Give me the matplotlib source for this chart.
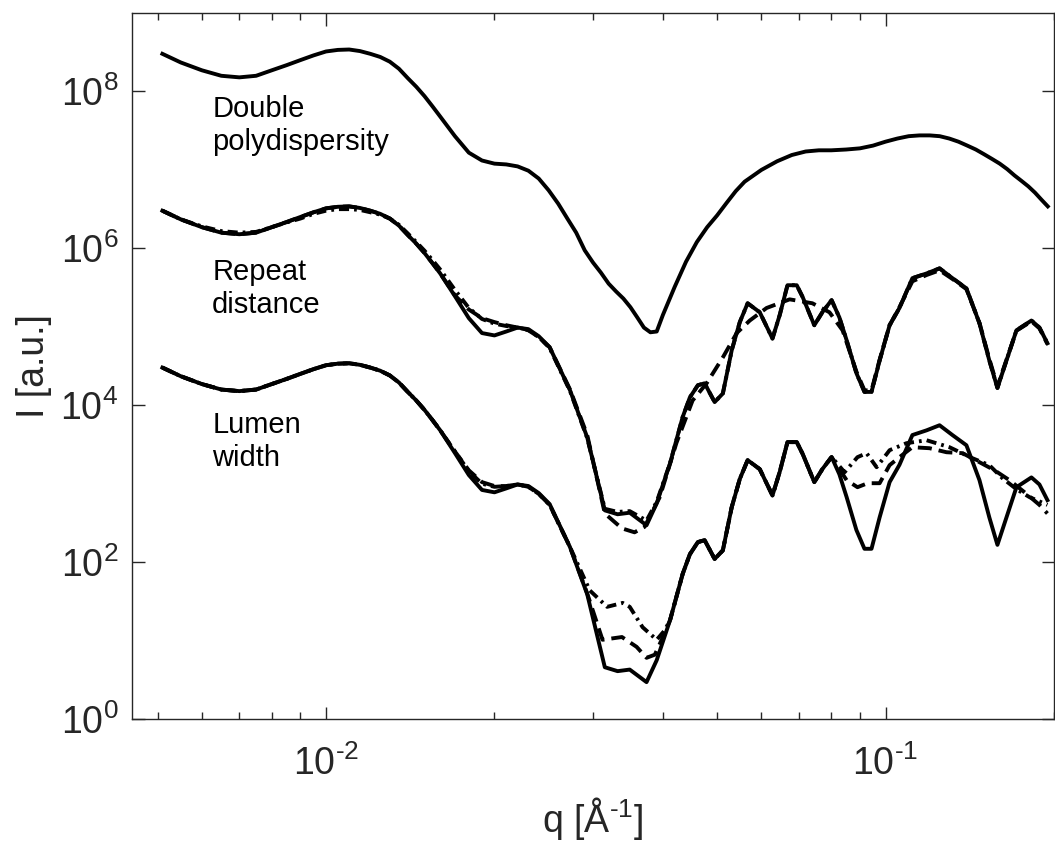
import matplotlib
matplotlib.use("Agg")
import matplotlib.pyplot as plt
import numpy as np
from matplotlib.ticker import FixedLocator, LogLocator, FuncFormatter, NullFormatter

plt.rcParams['font.family'] = ['Liberation Sans', 'DejaVu Sans']
plt.rcParams['mathtext.fontset'] = 'custom'
plt.rcParams['mathtext.rm'] = 'Liberation Sans'
plt.rcParams['mathtext.it'] = 'Liberation Sans:italic'
plt.rcParams['mathtext.default'] = 'regular'

# shared low-q part (all curves start on the same shape), log10(I)
q_left = [0.0051, 0.0055, 0.006, 0.0065, 0.007, 0.0075, 0.008, 0.0085, 0.009, 0.0095,
          0.010, 0.0105, 0.011, 0.0115, 0.012, 0.0125, 0.013, 0.0135, 0.014, 0.0145,
          0.015, 0.0155, 0.016]
logI_left = [4.48, 4.37, 4.27, 4.20, 4.18, 4.20, 4.27, 4.335, 4.40, 4.46,
             4.51, 4.53, 4.535, 4.515, 4.48, 4.44, 4.38, 4.29, 4.17, 4.06,
             3.94, 3.81, 3.68]

# double polydispersity model (smooth)
q_double = q_left + [0.017, 0.018, 0.019, 0.020, 0.021, 0.022, 0.023, 0.024, 0.025, 0.026,
                     0.027, 0.028, 0.029, 0.030, 0.031, 0.032, 0.033, 0.034, 0.035, 0.036,
                     0.037, 0.038, 0.039, 0.040, 0.042, 0.044, 0.046, 0.048, 0.050, 0.052,
                     0.054, 0.056, 0.060, 0.064, 0.068, 0.072, 0.076, 0.080, 0.085, 0.090,
                     0.095, 0.100, 0.105, 0.110, 0.115, 0.120, 0.125, 0.130, 0.135, 0.140,
                     0.145, 0.150, 0.155, 0.160, 0.165, 0.170, 0.175, 0.180, 0.185, 0.190, 0.195]
logI_double = logI_left + [3.43, 3.22, 3.12, 3.08, 3.07, 3.045, 2.99, 2.89, 2.74, 2.57,
                           2.38, 2.20, 1.975, 1.82, 1.69, 1.55, 1.45, 1.36, 1.25, 1.12,
                           0.99, 0.93, 0.94, 1.15, 1.51, 1.83, 2.08, 2.27, 2.42, 2.58,
                           2.73, 2.85, 3.00, 3.11, 3.19, 3.235, 3.25, 3.25, 3.26, 3.275,
                           3.31, 3.36, 3.40, 3.43, 3.44, 3.44, 3.43, 3.40, 3.36, 3.31,
                           3.26, 3.20, 3.14, 3.08, 3.01, 2.93, 2.86, 2.79, 2.71, 2.62, 2.535]

# reference (solid) curve, used in the two lower groups
q_ref = q_left + [0.017, 0.018, 0.019, 0.020, 0.021, 0.022, 0.023, 0.024, 0.0251, 0.0273,
                  0.0293, 0.0315, 0.0332, 0.0349, 0.0374, 0.0390, 0.0412, 0.0434, 0.0447, 0.0462,
                  0.0475, 0.0495, 0.0512, 0.0531, 0.0549, 0.0567, 0.0596, 0.0628, 0.0647, 0.0668,
                  0.0694, 0.0711, 0.0746, 0.0771, 0.0801, 0.0827, 0.0852, 0.0887, 0.0917, 0.0944,
                  0.0976, 0.1017, 0.1059, 0.1117, 0.1184, 0.1249, 0.1317, 0.1395, 0.1472, 0.1533,
                  0.1585, 0.1645, 0.1714, 0.1823, 0.1884, 0.1947]
logI_ref = logI_left + [3.39, 3.11, 2.92, 2.89, 2.94, 2.99, 2.97, 2.88, 2.74, 2.19,
                        1.59, 0.66, 0.61, 0.63, 0.47, 0.75, 1.26, 1.85, 2.10, 2.255,
                        2.28, 2.04, 2.15, 2.70, 3.06, 3.30, 3.185, 2.85, 3.15, 3.53,
                        3.53, 3.38, 3.02, 3.185, 3.34, 3.12, 2.83, 2.41, 2.17, 2.17,
                        2.57, 3.02, 3.24, 3.62, 3.68, 3.745, 3.62, 3.49, 3.045, 2.57,
                        2.22, 2.57, 2.955, 3.08, 2.99, 2.79]
n_left = len(q_left)

# repeat distance variations
q_rep_dash = q_left + [0.017, 0.018, 0.019, 0.020, 0.021, 0.022, 0.023, 0.024, 0.0251, 0.0273,
                       0.0293, 0.0315, 0.0338, 0.0356, 0.0371, 0.0395, 0.0423, 0.0452, 0.0479, 0.0512,
                       0.0542, 0.0572, 0.0613, 0.0674, 0.0740, 0.0794, 0.0838, 0.0887, 0.0917, 0.0944,
                       0.0976, 0.1017, 0.1059, 0.1117, 0.1184, 0.1249, 0.1317, 0.1395, 0.1472, 0.1533,
                       0.1585, 0.1645, 0.1714, 0.1823, 0.1884, 0.1947]
logI_rep_dash = logI_left + [3.40, 3.22, 3.11, 3.06, 3.02, 2.99, 2.955, 2.87, 2.74, 2.20,
                             1.62, 0.62, 0.43, 0.38, 0.45, 0.83, 1.52, 2.06, 2.28, 2.61,
                             2.92, 3.08, 3.24, 3.35, 3.30, 3.185, 2.955, 2.43, 2.19, 2.19,
                             2.58, 3.02, 3.25, 3.58, 3.66, 3.72, 3.61, 3.48, 3.05, 2.59,
                             2.24, 2.58, 2.95, 3.07, 2.98, 2.78]

q_rep_dashdot = q_left + [0.017, 0.018, 0.019, 0.020, 0.021, 0.022, 0.023, 0.024, 0.0251, 0.0273,
                          0.0293, 0.0315, 0.0332, 0.0349, 0.0374, 0.0390, 0.0412] + q_ref[n_left + 17:]
logI_rep_dashdot = [4.48, 4.37, 4.28, 4.22, 4.20, 4.21, 4.27, 4.33, 4.38, 4.44,
                    4.48, 4.50, 4.50, 4.49, 4.46, 4.43, 4.38, 4.30, 4.19, 4.08,
                    3.97, 3.85, 3.73,
                    3.47, 3.24, 3.10, 3.04, 3.01, 2.99, 2.96, 2.87, 2.73, 2.18,
                    1.58, 0.68, 0.64, 0.65, 0.53, 0.77, 1.26] + logI_ref[n_left + 17:]

# lumen width variations
q_lum_dashdot = (q_left + [0.017, 0.018, 0.019, 0.020, 0.021, 0.022, 0.023, 0.024, 0.0251, 0.0273,
                           0.0296, 0.0318, 0.0339, 0.0349, 0.0368, 0.0390, 0.0403, 0.0412]
                 + q_ref[n_left + 17:n_left + 35]
                 + [0.0845, 0.0891, 0.0925, 0.0964, 0.1017, 0.1090, 0.1184, 0.1301, 0.1430,
                    0.1533, 0.1618, 0.1714, 0.1807, 0.1947])
logI_lum_dashdot = (logI_left + [3.41, 3.16, 3.00, 2.96, 2.97, 2.99, 2.96, 2.87, 2.73, 2.19,
                                 1.64, 1.43, 1.48, 1.43, 1.17, 1.01, 1.13, 1.26]
                    + logI_ref[n_left + 17:n_left + 35]
                    + [3.146, 3.338, 3.389, 3.21, 3.427, 3.516, 3.554, 3.465, 3.325,
                       3.236, 3.07, 2.93, 2.83, 2.73])

q_lum_dash = (q_left + [0.017, 0.018, 0.019, 0.020, 0.021, 0.022, 0.023, 0.024, 0.0251, 0.0273,
                        0.0293, 0.0312, 0.0338, 0.0359, 0.0374, 0.0387, 0.0398, 0.0412]
              + q_ref[n_left + 17:n_left + 35]
              + [0.0852, 0.0891, 0.0929, 0.0976, 0.1017, 0.1059, 0.1117, 0.1199, 0.1285,
                 0.1373, 0.1472, 0.1565, 0.1665, 0.1771, 0.1884, 0.1947])
logI_lum_dash = (logI_left + [3.41, 3.17, 3.02, 2.97, 2.97, 2.99, 2.96, 2.87, 2.73, 2.19,
                              1.60, 1.01, 1.045, 0.92, 0.78, 0.82, 1.01, 1.26]
                 + logI_ref[n_left + 17:n_left + 35]
                 + [3.045, 2.955, 3.006, 3.006, 3.236, 3.338, 3.465, 3.452, 3.401,
                    3.389, 3.274, 3.172, 3.045, 2.892, 2.73, 2.62])

# vertical offsets of the three groups
shift_double, shift_repeat, shift_lumen = 1e4, 1e2, 1.0

group_labels = ["Double\npolydispersity", "Repeat\ndistance", "Lumen\nwidth"]
label_y = [10 ** 7.95, 10 ** 5.875, 10 ** 3.925]

DASH = (3.6, 1.8)
DASHDOT = (2.6, 1.3, 0.7, 1.3)
LW = 2.8

fig = plt.figure(figsize=(10.55, 8.52), dpi=100)
ax = fig.add_axes([0.1251, 0.1561, 0.8739, 0.8286])


def curve(q, logI, shift, dashes=None):
    I = shift * 10 ** np.array(logI)
    if dashes is None:
        ax.plot(q, I, color='k', lw=LW, solid_joinstyle='round', zorder=3)
    else:
        ax.plot(q, I, color='k', lw=LW, dashes=dashes, zorder=2)


curve(q_rep_dash, logI_rep_dash, shift_repeat, DASH)
curve(q_rep_dashdot, logI_rep_dashdot, shift_repeat, DASHDOT)
curve(q_lum_dash, logI_lum_dash, shift_lumen, DASH)
curve(q_lum_dashdot, logI_lum_dashdot, shift_lumen, DASHDOT)
curve(q_double, logI_double, shift_double)
curve(q_ref, logI_ref, shift_repeat)
curve(q_ref, logI_ref, shift_lumen)

for txt, yy in zip(group_labels, label_y):
    ax.text(0.00626, yy, txt, fontsize=21, va='top', ha='left', linespacing=1.22)

ax.set_xscale('log')
ax.set_yscale('log')
ax.set_xlim(0.0045, 0.2)
ax.set_ylim(1, 1e9)

ax.yaxis.set_major_locator(FixedLocator([1e0, 1e2, 1e4, 1e6, 1e8]))
ax.yaxis.set_minor_locator(FixedLocator([]))
ax.xaxis.set_major_locator(FixedLocator([1e-2, 1e-1]))
ax.xaxis.set_minor_locator(LogLocator(base=10, subs=np.arange(2, 10)))
ax.xaxis.set_minor_formatter(NullFormatter())


def dec_fmt(v, pos):
    e = int(round(np.log10(v)))
    if e < 0:
        return r'$10^{\text{-}%d}$' % (-e)
    return r'$10^{%d}$' % e


ax.xaxis.set_major_formatter(FuncFormatter(dec_fmt))
ax.yaxis.set_major_formatter(FuncFormatter(dec_fmt))

axc = '#262626'
for s in ax.spines.values():
    s.set_color(axc)
    s.set_linewidth(1.0)
ax.tick_params(which='both', direction='in', top=True, right=True, colors=axc,
               labelsize=27, width=1.0)
ax.tick_params(axis='x', which='major', length=9, pad=19)
ax.tick_params(axis='x', which='minor', length=5)
ax.tick_params(axis='y', which='major', length=9, pad=10)

ax.set_xlabel(r'q [Å$^{\text{-}1}$]', fontsize=27, color=axc, labelpad=9)
ax.set_ylabel('I [a.u.]', fontsize=27, color=axc, labelpad=6)

fig.savefig('out.png', dpi=100)
